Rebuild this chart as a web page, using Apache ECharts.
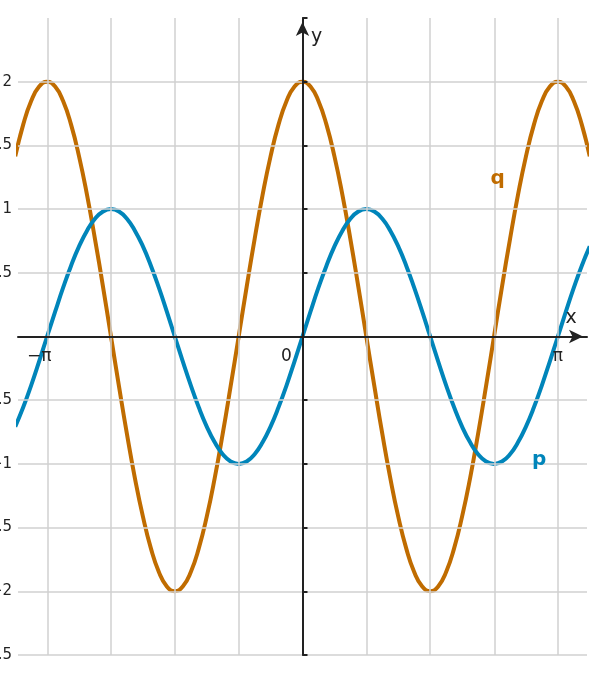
<!DOCTYPE html>
<html><head><meta charset="utf-8">
<script src="https://cdn.jsdelivr.net/npm/echarts@6/dist/echarts.min.js"></script>
<style>html,body{margin:0;padding:0;background:#fff}#c{width:604px;height:684px}</style>
</head><body><div id="c"></div>
<script>
const xs = [-3.534,-3.436,-3.338,-3.240,-3.142,-3.043,-2.945,-2.847,-2.749,-2.651,-2.553,-2.454,-2.356,-2.258,-2.160,-2.062,-1.963,-1.865,-1.767,-1.669,-1.571,-1.473,-1.374,-1.276,-1.178,-1.080,-0.982,-0.884,-0.785,-0.687,-0.589,-0.491,-0.393,-0.295,-0.196,-0.098,
0,0.098,0.196,0.295,0.393,0.491,0.589,0.687,0.785,0.884,0.982,1.080,1.178,1.276,1.374,1.473,1.571,1.669,1.767,1.865,1.963,2.062,2.160,2.258,2.356,2.454,2.553,2.651,2.749,2.847,2.945,3.043,3.142,3.240,3.338,3.436,3.534];
const pVals = [-0.707,-0.556,-0.383,-0.195,0,0.195,0.383,0.556,0.707,0.831,0.924,0.981,1,0.981,0.924,0.831,0.707,0.556,0.383,0.195,0,-0.195,-0.383,-0.556,-0.707,-0.831,-0.924,-0.981,-1,-0.981,-0.924,-0.831,-0.707,-0.556,-0.383,-0.195,
0,0.195,0.383,0.556,0.707,0.831,0.924,0.981,1,0.981,0.924,0.831,0.707,0.556,0.383,0.195,0,-0.195,-0.383,-0.556,-0.707,-0.831,-0.924,-0.981,-1,-0.981,-0.924,-0.831,-0.707,-0.556,-0.383,-0.195,0,0.195,0.383,0.556,0.707];
const qVals = [1.414,1.663,1.848,1.962,2,1.962,1.848,1.663,1.414,1.111,0.765,0.390,0,-0.390,-0.765,-1.111,-1.414,-1.663,-1.848,-1.962,-2,-1.962,-1.848,-1.663,-1.414,-1.111,-0.765,-0.390,0,0.390,0.765,1.111,1.414,1.663,1.848,1.962,
2,1.962,1.848,1.663,1.414,1.111,0.765,0.390,0,-0.390,-0.765,-1.111,-1.414,-1.663,-1.848,-1.962,-2,-1.962,-1.848,-1.663,-1.414,-1.111,-0.765,-0.390,0,0.390,0.765,1.111,1.414,1.663,1.848,1.962,2,1.962,1.848,1.663,1.414];
const vGrid = [-3.1416,-2.3562,-1.5708,-0.7854,0.7854,1.5708,2.3562,3.1416];
const yTicks = [-2.5,-2,-1.5,-1,-0.5,0.5,1,1.5,2];
const pColor = '#0085ba', qColor = '#c06c00';
const font = 'DejaVu Sans';
const chart = echarts.init(document.getElementById('c'));
chart.setOption({
  animation:false,
  grid:{left:18,right:17,top:18,bottom:29,containLabel:false,outerBoundsMode:'none'},
  xAxis:{type:'value',min:-3.5,max:3.5,splitLine:{show:false},axisTick:{show:false},axisLabel:{show:false},z:5,
    axisLine:{onZero:true,symbol:['none','arrow'],symbolSize:[10,14],symbolOffset:[0,-4],lineStyle:{color:'#222',width:2}}},
  yAxis:{type:'value',min:-2.5,max:2.5,interval:0.5,z:5,
    axisLine:{onZero:true,symbol:['none','arrow'],symbolSize:[10,14],symbolOffset:[0,-4],lineStyle:{color:'#222',width:2}},
    axisTick:{show:true,inside:true,length:5,lineStyle:{color:'#222',width:2}},
    axisLabel:{fontFamily:font,fontSize:15,color:'#222',margin:6,
      formatter:v=>(yTicks.includes(v)?String(v).replace('-','\u2212'):'')},
    splitLine:{showMaxLine:false,lineStyle:{color:'#d0d0d0',width:1.5}}},
  series:[
    {type:'line',data:[],markLine:{silent:true,symbol:'none',label:{show:false},
      lineStyle:{color:'#d0d0d0',width:1.5,type:'solid'},data:vGrid.map(v=>({xAxis:v}))},z:1},
    {name:'q',type:'line',smooth:true,showSymbol:false,data:xs.map((x,i)=>[x,qVals[i]]),
      lineStyle:{color:qColor,width:4},itemStyle:{color:qColor},z:3},
    {name:'p',type:'line',smooth:true,showSymbol:false,data:xs.map((x,i)=>[x,pVals[i]]),
      lineStyle:{color:pColor,width:4},itemStyle:{color:pColor},z:4}
  ]
});
const px = (x,y)=>chart.convertToPixel({gridIndex:0},[x,y]);
const txt = (s,x,y,dx,dy,color,size,bold)=>{const p=px(x,y);return {type:'text',x:p[0]+dx,y:p[1]+dy,z:10,
  style:{text:s,fill:color,font:(bold?'bold ':'')+size+'px '+font,align:'center',verticalAlign:'middle'}};};
chart.setOption({graphic:[
  txt('\u2212\u03c0',-3.1416,0,-8,20,'#222',17),
  txt('\u03c0',3.1416,0,0,20,'#222',17),
  txt('0',0,0,-16,20,'#222',17),
  txt('x',3.5,0,-16,-18,'#222',19),
  txt('y',0,2.5,14,19,'#222',19),
  txt('p',2.91,-0.97,0,0,pColor,20,true),
  txt('q',2.4,1.24,0,0,qColor,20,true)
]});
</script></body></html>
